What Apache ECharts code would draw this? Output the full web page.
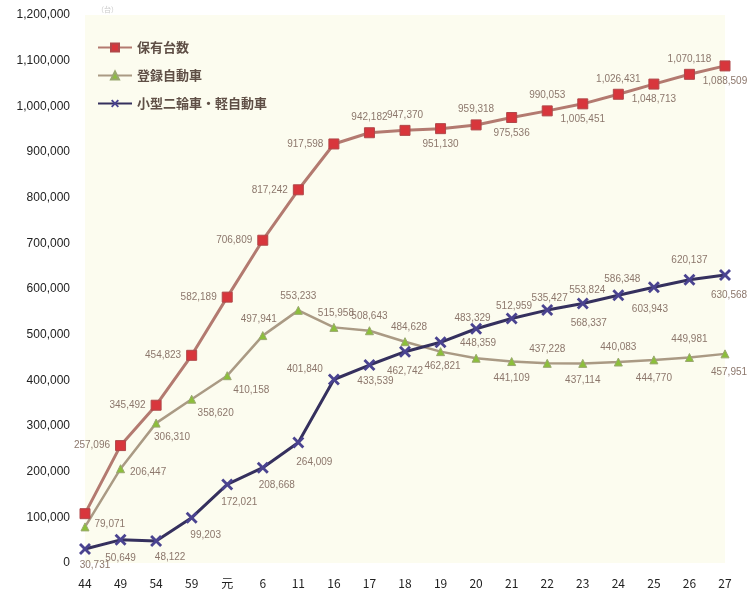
<!DOCTYPE html>
<html>
<head>
<meta charset="utf-8">
<script src="https://cdn.jsdelivr.net/npm/echarts@6/dist/echarts.min.js"></script>
<style>
html,body{margin:0;padding:0;background:#fff;}
#main{width:753px;height:592px;}
</style>
</head>
<body>
<div id="main"></div>
<script>
// 年度（昭和44～平成27）
var years = ['44','49','54','59','元','6','11','16','17','18','19','20','21','22','23','24','25','26','27'];
// 保有台数
var hoyu = [108000,257096,345492,454823,582189,706809,817242,917598,942182,947370,951130,959318,975536,990053,1005451,1026431,1048713,1070118,1088509];
// 登録自動車
var toroku = [79071,206447,306310,358620,410158,497941,553233,515958,508643,484628,462821,448359,441109,437228,437114,440083,444770,449981,457951];
// 小型二輪車・軽自動車
var kogata = [30731,50649,48122,99203,172021,208668,264009,401840,433539,462742,483329,512959,535427,553824,568337,586348,603943,620137,630568];
var yTicks = [0,100000,200000,300000,400000,500000,600000,700000,800000,900000,1000000,1100000,1200000];

// ラベル位置
var hoyuPos = [null,'left','left','left','left','left','left','left','top','top','bottom','top','bottom','top','bottom','top','bottom','top','bottom'];
var torokuPos = [['right',[0,-3]],['right',[0,4]],['bottom',[16,0]],['bottom',[24,0]],['bottom',[24,0]],['top',[-4,-2]],['top',[0,0]],['top',[2,0]],['top',[0,0]],['top',[4,0]],['bottom',[2,0]],['top',[2,0]],['bottom',[0,2]],['top',[0,0]],['bottom',[0,2]],['top',[0,0]],['bottom',[0,4]],['top',[0,-4]],['bottom',[4,4]]];
var kogataPos = [['bottom',[10,0]],['bottom',[0,2]],['bottom',[14,0]],['bottom',[14,2]],['bottom',[12,2]],['bottom',[14,2]],['bottom',[16,4]],['left',[0,-10]],['bottom',[6,0]],['bottom',[0,4]],['top',[32,-8]],['top',[38,-6]],['top',[38,-4]],['top',[40,-4]],['bottom',[6,4]],['top',[4,0]],['bottom',[-4,6]],['top',[0,-4]],['bottom',[4,4]]];

var labelColor = '#8c776c';
var xMark = 'path://M2,0 L6,4 L10,0 L12,2 L8,6 L12,10 L10,12 L6,8 L2,12 L0,10 L4,6 L0,2 Z';

function fmt(v){ return v.toLocaleString('en-US'); }

function withLabels(values, pos){
    return values.map(function(v,i){
        var p = pos[i];
        if(!p){ return {value:v, label:{show:false}}; }
        if(typeof p === 'string'){ p = [p,[0,0]]; }
        return {value:v, label:{position:p[0], offset:p[1]}};
    });
}

var chart = echarts.init(document.getElementById('main'));
var option = {
    animation:false,
    backgroundColor:'#ffffff',
    textStyle:{fontFamily:'"Liberation Sans", "Noto Sans CJK JP", sans-serif'},
    title:{
        text:'（台）',
        left:92,
        top:2,
        textStyle:{fontSize:7,color:'#c8c8c8',fontWeight:'normal'}
    },
    legend:{
        orient:'vertical',
        left:92,
        top:36,
        itemGap:15,
        itemWidth:34,
        itemHeight:10,
        data:['保有台数','登録自動車','小型二輪車・軽自動車'],
        textStyle:{fontSize:13,fontWeight:'bold',color:'#5f4f46',fontFamily:'"Noto Sans CJK JP", sans-serif'}
    },
    grid:{
        show:true,
        left:85,
        right:28,
        top:15,
        bottom:29,
        backgroundColor:'#fcfcef',
        borderWidth:0
    },
    xAxis:{
        type:'category',
        boundaryGap:false,
        data:years,
        axisLine:{show:false},
        axisTick:{show:false},
        axisLabel:{fontSize:12,color:'#222',margin:14,fontFamily:'"Noto Sans CJK JP", sans-serif'}
    },
    yAxis:{
        type:'value',
        min:0,
        max:1200000,
        interval:100000,
        axisLine:{show:false},
        axisTick:{show:false},
        splitLine:{show:false},
        axisLabel:{fontSize:12,color:'#222',margin:15,formatter:function(v){return fmt(v);}}
    },
    series:[
        {
            name:'保有台数',
            type:'line',
            symbol:'rect',
            symbolSize:10,
            lineStyle:{width:3,color:'#b37a70'},
            itemStyle:{color:'#d8363c',borderColor:'#b0484a',borderWidth:1},
            label:{show:true,fontSize:10,color:labelColor,formatter:function(p){return fmt(p.value);}},
            data:withLabels(hoyu,hoyuPos)
        },
        {
            name:'登録自動車',
            type:'line',
            symbol:'triangle',
            symbolSize:8,
            lineStyle:{width:2.5,color:'#aa9a84'},
            itemStyle:{color:'#8cbf3a',borderColor:'#9aa870',borderWidth:1},
            label:{show:true,fontSize:10,color:labelColor,formatter:function(p){return fmt(p.value);}},
            data:withLabels(toroku,torokuPos)
        },
        {
            name:'小型二輪車・軽自動車',
            type:'line',
            symbol:xMark,
            symbolSize:12,
            lineStyle:{width:3,color:'#35305e'},
            itemStyle:{color:'#4a4390'},
            label:{show:true,fontSize:10,color:labelColor,formatter:function(p){return fmt(p.value);}},
            data:withLabels(kogata,kogataPos)
        }
    ]
};
chart.setOption(option);
</script>
</body>
</html>
